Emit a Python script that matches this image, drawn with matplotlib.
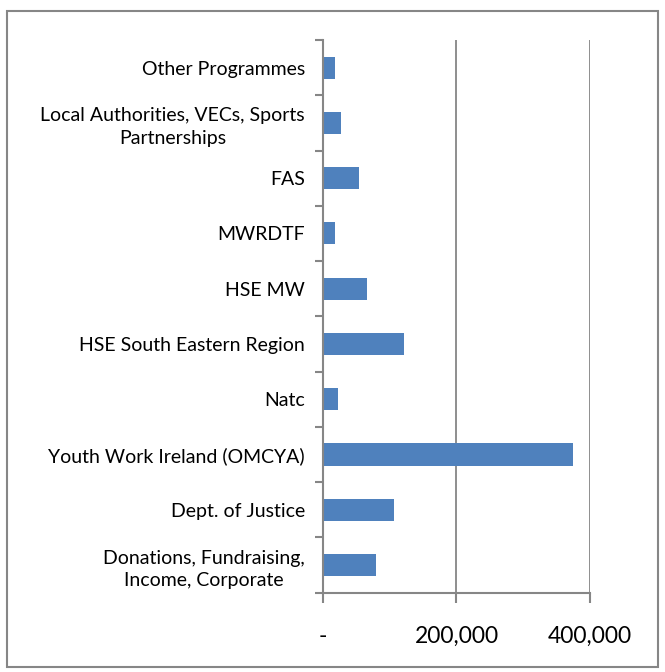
import matplotlib
matplotlib.use("Agg")
import matplotlib.pyplot as plt
from matplotlib.patches import Rectangle

# funding sources, bottom to top as drawn
categories = [
    "Donations, Fundraising,\nIncome, Corporate",
    "Dept. of Justice",
    "Youth Work Ireland (OMCYA)",
    "Natc",
    "HSE South Eastern Region",
    "HSE MW",
    "MWRDTF",
    "FAS",
    "Local Authorities, VECs, Sports\nPartnerships",
    "Other Programmes",
]
amounts = [80000, 107000, 375000, 23000, 122000, 65500, 17500, 53500, 27000, 18000]

x_ticks = [0, 200000, 400000]
x_tick_labels = ["-", "200,000", "400,000"]

bar_color = "#4F81BD"
axis_grey = "#868686"

plt.rcParams['font.family'] = ['Lato', 'DejaVu Sans']

fig = plt.figure(figsize=(6.65, 6.72), dpi=100)
ax = fig.add_axes([0.4857, 0.118, 0.4015, 0.8225])

pos = list(range(len(categories)))
ax.barh(pos, amounts, height=0.4, color=bar_color, zorder=3)

ax.set_xlim(0, 400000)
ax.set_ylim(-0.5, len(categories) - 0.5)

ax.set_xticks(x_ticks)
ax.set_xticklabels(x_tick_labels, fontsize=16.5)
ax.set_yticks([p - 0.5 for p in pos] + [len(categories) - 0.5], minor=True)
ax.set_yticks(pos)
ax.set_yticklabels(categories, fontsize=14)
for lab in ax.get_yticklabels():
    lab.set_multialignment('center')
    lab.set_linespacing(1.4)

ax.tick_params(axis='y', which='major', length=0, pad=13)
ax.tick_params(axis='y', which='minor', length=6, width=1.5, color=axis_grey)
ax.tick_params(axis='x', length=7, width=1.5, color=axis_grey, pad=17)

ax.grid(axis='x', color=axis_grey, linewidth=1.3, zorder=0)
for side in ['top', 'right']:
    ax.spines[side].set_visible(False)
for side in ['left', 'bottom']:
    ax.spines[side].set_color(axis_grey)
    ax.spines[side].set_linewidth(1.5)
    ax.spines[side].set_zorder(4)

# outer chart border
fig.patches.append(Rectangle((7 / 665, 5 / 672), 651 / 665, 656 / 672,
                             transform=fig.transFigure, fill=False,
                             edgecolor=axis_grey, linewidth=1.5))

fig.savefig("out.png", dpi=100)
